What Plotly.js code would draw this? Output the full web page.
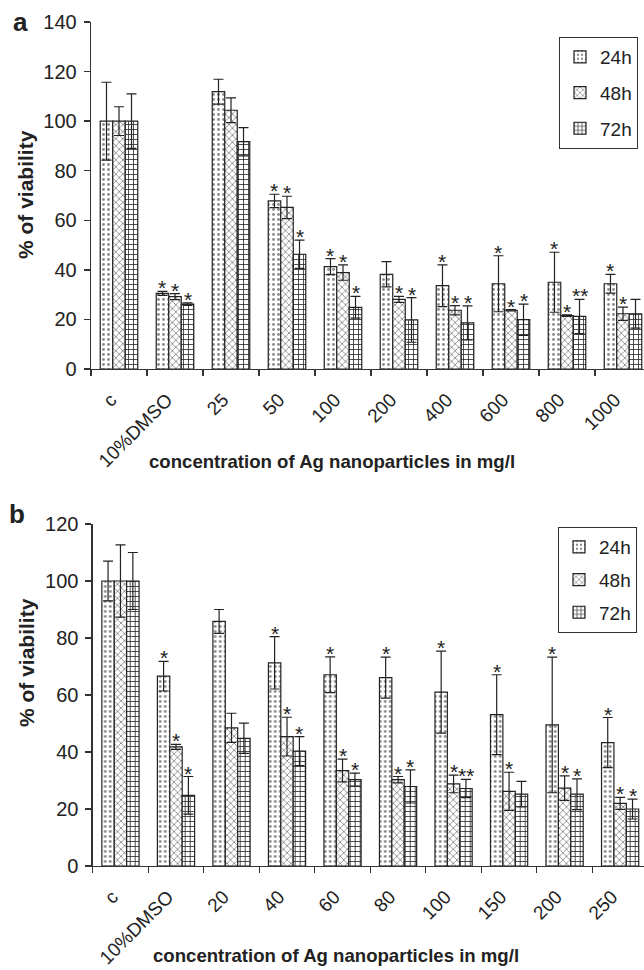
<!DOCTYPE html>
<html>
<head>
<meta charset="utf-8">
<script src="https://cdn.plot.ly/plotly-3.0.1.min.js"></script>
<style>html,body{margin:0;padding:0;background:#fff;}#chart{width:644px;height:970px;}</style>
</head>
<body>
<div id="chart"></div>
<script>
// ---- Panel a data ----
const categoriesA = ['c','10%DMSO','25','50','100','200','400','600','800','1000'];
const a24 = [100,30.5,111.9,67.8,41.3,38.2,33.6,34.4,35.0,34.4];
const a24err = [15.7,0.8,5.0,2.7,3.2,5.1,8.4,11.3,12.1,3.8];
const a48 = [100,29.2,104.4,65.2,38.9,28.1,23.7,23.7,21.5,22.3];
const a48err = [5.8,1.2,5.0,4.5,3.1,1.2,1.9,0.3,0.3,2.7];
const a72 = [100,26.2,91.7,46.3,24.9,19.8,18.6,19.9,21.2,22.3];
const a72err = [11.0,0.5,5.7,5.7,4.4,9.0,6.9,6.3,6.9,5.8];
const a24stars = ['','*','','*','*','','*','*','*','*'];
const a48stars = ['','*','','*','*','*','*','*','*','*'];
const a72stars = ['','*','','*','*','*','*','*','**',''];

// ---- Panel b data ----
const categoriesB = ['c','10%DMSO','20','40','60','80','100','150','200','250'];
const b24 = [100,66.6,85.8,71.3,67.1,66.1,61.0,53.1,49.5,43.3];
const b24err = [7.0,5.2,4.2,9.2,6.3,7.2,14.4,14.0,23.8,8.8];
const b48 = [100,41.8,48.5,45.4,33.5,30.3,28.8,26.2,27.3,22.0];
const b48err = [12.7,0.9,5.1,6.8,4.0,1.1,3.1,6.7,4.3,2.1];
const b72 = [100,24.8,44.8,40.3,30.3,27.9,27.2,25.2,25.2,20.0];
const b72err = [10.0,6.6,5.3,5.1,2.3,5.8,3.2,4.5,5.4,3.5];
const b24stars = ['','*','','*','*','*','*','*','*','*'];
const b48stars = ['','*','','*','*','*','*','*','*','*'];
const b72stars = ['','*','','*','*','*','**','','*','*'];

const seriesNames = ['24h','48h','72h'];
const yTicksA = [0,20,40,60,80,100,120,140];
const yTicksB = [0,20,40,60,80,100,120];
const axisTitleX = 'concentration of Ag nanoparticles in mg/l';
const axisTitleY = '% of viability';

const FONT = 'Liberation Sans, Arial, sans-serif';
const BARGAP = 0.33;
const patterns = [
  {shape: '.', fgcolor: '#8a8a8a', bgcolor: '#ffffff', size: 5, solidity: 0.25},
  {shape: 'x', fgcolor: '#6a6a6a', bgcolor: '#ffffff', size: 5, solidity: 0.25},
  {shape: '+', fgcolor: '#2a2a2a', bgcolor: '#ffffff', size: 5, solidity: 0.3}
];

function makeBar(cats, vals, errs, k, xa, ya, legendName) {
  return {
    type: 'bar', x: cats, y: vals, name: seriesNames[k],
    xaxis: xa, yaxis: ya, legend: legendName, legendgroup: legendName + k,
    marker: {color: '#ffffff', line: {color: '#222', width: 1.2}, pattern: patterns[k]},
    error_y: {type: 'data', array: errs, visible: true, color: '#222', thickness: 1.2, width: 5},
    hoverinfo: 'skip'
  };
}

const data = [
  makeBar(categoriesA, a24, a24err, 0, 'x', 'y', 'legend'),
  makeBar(categoriesA, a48, a48err, 1, 'x', 'y', 'legend'),
  makeBar(categoriesA, a72, a72err, 2, 'x', 'y', 'legend'),
  makeBar(categoriesB, b24, b24err, 0, 'x2', 'y2', 'legend2'),
  makeBar(categoriesB, b48, b48err, 1, 'x2', 'y2', 'legend2'),
  makeBar(categoriesB, b72, b72err, 2, 'x2', 'y2', 'legend2')
];

// star annotations computed from data
const annotations = [];
const barW = (1 - BARGAP) / 3;
function addStars(vals, errs, stars, k, xref, yref) {
  vals.forEach((v, i) => {
    if (!stars[i]) return;
    annotations.push({
      xref: xref, yref: yref, x: i + (k - 1) * barW, y: v + errs[i],
      text: stars[i], showarrow: false, yanchor: 'bottom', xanchor: 'center',
      yshift: -10, font: {family: FONT, size: 21, color: '#222'}
    });
  });
}
addStars(a24, a24err, a24stars, 0, 'x', 'y');
addStars(a48, a48err, a48stars, 1, 'x', 'y');
addStars(a72, a72err, a72stars, 2, 'x', 'y');
addStars(b24, b24err, b24stars, 0, 'x2', 'y2');
addStars(b48, b48err, b48stars, 1, 'x2', 'y2');
addStars(b72, b72err, b72stars, 2, 'x2', 'y2');

// panel labels and axis titles
const H = 970, W = 644;
function py(pix) { return 1 - pix / H; }
annotations.push(
  {xref: 'paper', yref: 'paper', x: -71/553, y: py(22), text: '<b>a</b>', showarrow: false,
   xanchor: 'center', yanchor: 'middle', font: {family: FONT, size: 26, color: '#222'}},
  {xref: 'paper', yref: 'paper', x: -74/553, y: py(514), text: '<b>b</b>', showarrow: false,
   xanchor: 'center', yanchor: 'middle', font: {family: FONT, size: 26, color: '#222'}},
  {xref: 'paper', yref: 'paper', x: -65/553, y: py(195), text: '<b>' + axisTitleY + '</b>', showarrow: false,
   textangle: -90, xanchor: 'center', yanchor: 'middle', font: {family: FONT, size: 21, color: '#222'}},
  {xref: 'paper', yref: 'paper', x: -65/553, y: py(663), text: '<b>' + axisTitleY + '</b>', showarrow: false,
   textangle: -90, xanchor: 'center', yanchor: 'middle', font: {family: FONT, size: 21, color: '#222'}},
  {xref: 'paper', yref: 'paper', x: (332-91)/553, y: py(461), text: '<b>' + axisTitleX + '</b>', showarrow: false,
   xanchor: 'center', yanchor: 'middle', font: {family: FONT, size: 18.6, color: '#222'}},
  {xref: 'paper', yref: 'paper', x: (336-91)/553, y: py(955), text: '<b>' + axisTitleX + '</b>', showarrow: false,
   xanchor: 'center', yanchor: 'middle', font: {family: FONT, size: 18.6, color: '#222'}}
);

const xCommon = {
  type: 'category', tickson: 'boundaries', ticks: 'outside', ticklen: 6, tickwidth: 1.3, tickcolor: '#333',
  showline: true, linecolor: '#333', linewidth: 1.3, showgrid: false, zeroline: false,
  tickangle: -45, tickfont: {family: FONT, size: 19, color: '#222'}, ticklabelstandoff: 11, ticklabelshift: -8,
  fixedrange: true
};
const yCommon = {
  ticks: 'outside', ticklen: 6, tickwidth: 1.3, tickcolor: '#333', showline: true, linecolor: '#333', linewidth: 1.3,
  showgrid: false, zeroline: false, tickfont: {family: FONT, size: 20, color: '#222'}, ticklabelstandoff: 3, fixedrange: true
};

const layout = {
  width: W, height: H, margin: {l: 91, r: 0, t: 0, b: 0},
  paper_bgcolor: '#fff', plot_bgcolor: '#fff',
  barmode: 'group', bargap: BARGAP, bargroupgap: 0,
  font: {family: FONT, color: '#222'},
  xaxis: Object.assign({}, xCommon, {anchor: 'y', domain: [0, 1], range: [-0.5, 9.375]}),
  yaxis: Object.assign({}, yCommon, {anchor: 'x', domain: [py(369), py(22)], range: [0, 140], tickvals: yTicksA}),
  xaxis2: Object.assign({}, xCommon, {anchor: 'y2', domain: [1.7/553, 1], range: [-0.5, 9.43]}),
  yaxis2: Object.assign({}, yCommon, {anchor: 'x2', domain: [py(866), py(524)], range: [0, 120], tickvals: yTicksB}),
  legend: {x: (638-91)/553, xanchor: 'right', y: py(37), yanchor: 'top',
           bordercolor: '#333', borderwidth: 1, bgcolor: '#fff', tracegroupgap: 8, itemwidth: 30,
           font: {family: FONT, size: 19, color: '#222'}},
  legend2: {x: (637-91)/553, xanchor: 'right', y: py(527), yanchor: 'top',
           bordercolor: '#333', borderwidth: 1, bgcolor: '#fff', tracegroupgap: 5, itemwidth: 30,
           font: {family: FONT, size: 19, color: '#222'}},
  annotations: annotations,
  showlegend: true
};

Plotly.newPlot('chart', data, layout, {staticPlot: true, displayModeBar: false});
</script>
</body>
</html>
